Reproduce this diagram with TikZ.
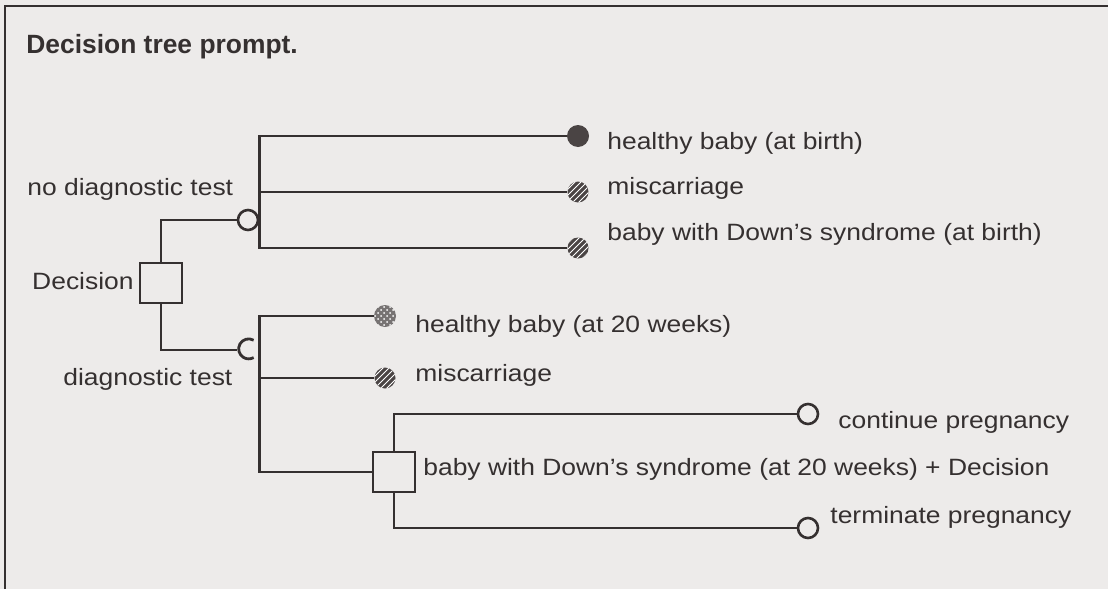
\documentclass[tikz,border=0pt]{standalone}
\usepackage{fontspec}
\setmainfont{Liberation Sans}[FakeStretch=1.12]
\newfontfamily\titlefont{Liberation Sans}
\usetikzlibrary{patterns}
\definecolor{paper}{HTML}{EDEBEA}
\definecolor{ink}{HTML}{353030}
\definecolor{dotgrey}{HTML}{4A4444}
\tikzstyle{decision} = [rectangle, draw=ink, line width=1.4pt, minimum width=21pt, minimum height=20pt, inner sep=0pt]
\tikzstyle{chance} = [circle, draw=ink, line width=1.3pt, minimum size=10pt, inner sep=0pt, fill=paper]
\tikzstyle{outcome} = [circle, minimum size=11pt, inner sep=0pt, fill=dotgrey]
\tikzstyle{hatched} = [circle, minimum size=10.5pt, inner sep=0pt, preaction={fill=dotgrey}, pattern=north east lines, pattern color=white]
\tikzstyle{speckled} = [circle, minimum size=11pt, inner sep=0pt, preaction={fill=dotgrey!75}, pattern=crosshatch dots, pattern color=white]
\tikzstyle{txt} = [anchor=base west, inner sep=0pt, text=ink, font=\fontsize{11.8}{14}\selectfont]
\tikzstyle{line} = [draw=ink, line width=1.4pt]

\begin{document}
\begin{tikzpicture}[x=0.5pt, y=-0.5pt]
    % Background and frame
    \useasboundingbox[fill=paper] (0,0) rectangle (1108,589);
    \draw[line] (5,589) -- (5,6) -- (1108,6);

    % Nodes
    \node (title) [txt, font=\titlefont\fontsize{13.2}{15}\selectfont\bfseries] at (26,54) {Decision tree prompt.};

    \node (root) [decision] at (161,283) {};
    \node (rootlbl) [txt, anchor=base east] at (134,289) {Decision};

    \node (notest) [chance] at (248,220) {};
    \node (notestlbl) [txt] at (27,195) {no diagnostic test};
    \node (test) [chance, draw=none, fill=none] at (248,350) {};
    \node (testlbl) [txt] at (63,385) {diagnostic test};

    \node (o1) [outcome] at (578,136) {};
    \node (o2) [hatched] at (578,192) {};
    \node (o3) [hatched] at (578,248) {};
    \node (o1lbl) [txt] at (607,149) {healthy baby (at birth)};
    \node (o2lbl) [txt] at (607,194) {miscarriage};
    \node (o3lbl) [txt] at (607,240) {baby with Down's syndrome (at birth)};

    \node (o4) [speckled] at (385,316) {};
    \node (o5) [hatched] at (385,378) {};
    \node (o4lbl) [txt] at (415,332) {healthy baby (at 20 weeks)};
    \node (o5lbl) [txt] at (415,381) {miscarriage};

    \node (d2) [decision] at (394,472) {};
    \node (d2lbl) [txt] at (423,475) {baby with Down's syndrome (at 20 weeks) + Decision};

    \node (c1) [chance] at (808,414) {};
    \node (c2) [chance] at (808,528) {};
    \node (c1lbl) [txt] at (838,428) {continue pregnancy};
    \node (c2lbl) [txt] at (830,523) {terminate pregnancy};

    % Connections
    \draw[line] (root.north) |- (notest.west);
    \draw[line] (root.south) |- (test.west);
    \draw[line] (test.60) arc[start angle=60, end angle=300, radius=5pt];

    \draw[line] (notest.east) |- (o1.west);
    \draw[line] (notest.east) |- (o2.west);
    \draw[line] (notest.east) |- (o3.west);

    \draw[line] (test.east) |- (o4.west);
    \draw[line] (test.east) |- (o5.west);
    \draw[line] (test.east) |- (d2.west);

    \draw[line] (d2.north) |- (c1.west);
    \draw[line] (d2.south) |- (c2.west);
\end{tikzpicture}
\end{document}
